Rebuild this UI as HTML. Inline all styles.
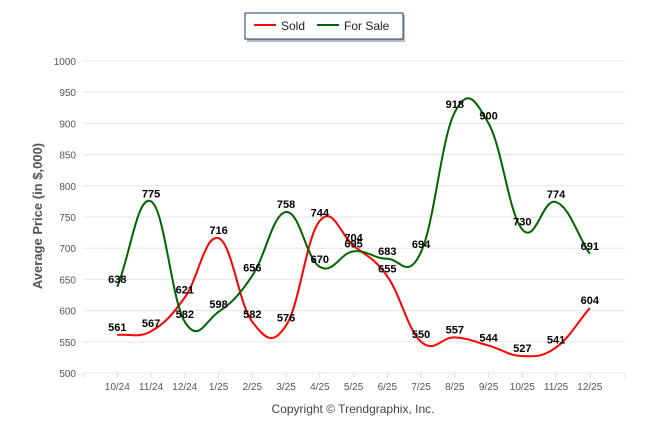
<!DOCTYPE html>
<html><head><meta charset="utf-8"><style>
body{margin:0;background:#fff;width:646px;height:434px;overflow:hidden;font-family:"Liberation Sans",sans-serif}
</style></head><body>
<svg id="c" width="646" height="434" xmlns="http://www.w3.org/2000/svg">
<g>
<rect x="247" y="15" width="158" height="27" fill="#bbb"/>
<rect x="245" y="13" width="158" height="26" fill="#fff" stroke="#1f3660" stroke-width="1"/>
<line x1="254" y1="25" x2="276" y2="25" stroke="#f00" stroke-width="2"/>
<text x="281" y="30" font-size="12" fill="#222">Sold</text>
<line x1="317" y1="25" x2="339" y2="25" stroke="#006400" stroke-width="2"/>
<text x="344" y="30" font-size="12" fill="#222">For Sale</text>
</g>
<text transform="translate(42,216) rotate(-90)" text-anchor="middle" font-size="13" font-weight="bold" fill="#555">Average Price (in $,000)</text>
<text x="353" y="413" text-anchor="middle" font-size="12" fill="#444">Copyright © Trendgraphix, Inc.</text>
<g id="grid"></g><g id="series"></g><g id="labels"></g>
</svg>
<script>
const categories=["10/24","11/24","12/24","1/25","2/25","3/25","4/25","5/25","6/25","7/25","8/25","9/25","10/25","11/25","12/25"];
const soldValues=[561,567,621,716,582,576,744,704,655,550,557,544,527,541,604];
const forSaleValues=[638,775,582,598,656,758,670,695,683,694,918,900,730,774,691];
const yTicks=[500,550,600,650,700,750,800,850,900,950,1000];
const NS="http://www.w3.org/2000/svg";
const X0=117.3,DX=33.75,Y0=373,YS=0.624;
const xs=i=>X0+i*DX, ys=v=>Y0-(v-500)*YS;
function mk(t,a,p){const e=document.createElementNS(NS,t);for(const k in a)e.setAttribute(k,a[k]);p.appendChild(e);return e;}
const grid=document.getElementById('grid');
yTicks.forEach(v=>{
  const l=mk('line',{x1:83,x2:625,y1:ys(v),y2:ys(v),stroke:'#e6e6e6'},grid);
  
  
  const t=mk('text',{x:76,y:ys(v)+4,'text-anchor':'end','font-size':'10',fill:'#555'},grid);
  t.textContent=v;
  
  
});
categories.forEach((c,i)=>{
  mk('line',{x1:xs(i),x2:xs(i),y1:Y0,y2:Y0+5,stroke:'#ddd'},grid);
  const t=mk('text',{x:xs(i),y:Y0+17,'text-anchor':'middle','font-size':'10',fill:'#555'},grid);
  t.textContent=c;
  
  
});
mk('line',{x1:83,x2:83,y1:Y0,y2:Y0+5,stroke:'#ddd'},grid);
mk('line',{x1:625,x2:625,y1:Y0,y2:Y0+5,stroke:'#ddd'},grid);
function path(vals){
  const p=vals.map((v,i)=>[xs(i),ys(v)]);
  const n=p.length,L=[],R=[];
  for(let i=0;i<n;i++){
    const a=p[i-1]||p[i],b=p[i],c=p[i+1]||p[i];
    const slope=(c[1]-a[1])/(c[0]-a[0]);
    const k=DX*0.4;
    L[i]=[b[0]-k,b[1]-slope*k];R[i]=[b[0]+k,b[1]+slope*k];
  }
  let d='M'+p[0][0]+','+p[0][1];
  for(let i=0;i<n-1;i++)d+=` C${R[i][0]},${R[i][1]} ${L[i+1][0]},${L[i+1][1]} ${p[i+1][0]},${p[i+1][1]}`;
  return d;
}
const series=document.getElementById('series'),labels=document.getElementById('labels');
[[soldValues,'#f00','sold'],[forSaleValues,'#006400','for-sale']].forEach(([vals,col,n])=>{
  const pa=mk('path',{d:path(vals),fill:'none',stroke:col,'stroke-width':2},series);
  
  
  vals.forEach((v,i)=>{
    const t=mk('text',{x:xs(i),y:ys(v)-4,'text-anchor':'middle','font-size':'11','font-weight':'bold',fill:'#000'},labels);
    t.textContent=v;
    
    
  });
});
</script>
</body></html>
